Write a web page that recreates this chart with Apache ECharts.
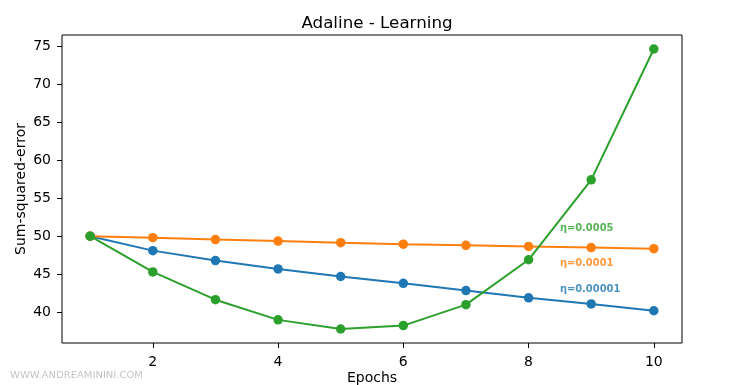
<!DOCTYPE html>
<html><head><meta charset="utf-8">
<script src="https://cdn.jsdelivr.net/npm/echarts@6/dist/echarts.min.js"></script>
<style>html,body{margin:0;padding:0;background:#fff}#c{width:730px;height:385px}</style>
</head><body><div id="c"></div>
<script>
const epochs = [1,2,3,4,5,6,7,8,9,10];
const eta00001 = [50.0,48.1,46.8,45.7,44.7,43.8,42.85,41.9,41.1,40.2];
const eta0001 = [50.0,49.8,49.55,49.35,49.15,48.95,48.8,48.65,48.5,48.35];
const eta0005 = [50.0,45.3,41.65,39.0,37.8,38.25,41.0,46.9,57.4,74.6];
const xTicks = [2,4,6,8,10];
const yTicks = [40,45,50,55,60,65,70,75];
const labels = ['η=0.00001','η=0.0001','η=0.0005'];
const labelPos = [[8.5,43.0],[8.5,46.5],[8.5,51.1]];
const colors = ['#1f77b4','#ff7f0e','#2ca02c'];
const seriesData = [eta00001, eta0001, eta0005];

const font = 'DejaVu Sans';
const xmin = 1 - 0.05*9, xmax = 10 + 0.05*9;
const all = [].concat(...seriesData);
const dmin = Math.min(...all), dmax = Math.max(...all), dr = dmax-dmin;
const ymin = dmin - 0.05*dr, ymax = dmax + 0.05*dr;

const chart = echarts.init(document.getElementById('c'), null, {renderer:'canvas'});
const series = seriesData.map((d,i)=>({
  type:'line', data: epochs.map((e,j)=>[e,d[j]]),
  symbol:'circle', symbolSize:9.5, showSymbol:true,
  lineStyle:{color:colors[i], width:2}, itemStyle:{color:colors[i]},
  animation:false, z: 2+i
}));
series.push({
  type:'scatter', symbolSize:0, animation:false, silent:true,
  data: labelPos.map((p,i)=>({value:p, label:{show:true, formatter:labels[i], position:'right', distance:0, color:colors[i], fontFamily:'DejaVu Sans Condensed', fontWeight:'bold', fontSize:11}}))
});
chart.setOption({
  backgroundColor:'#fff',
  animation:false,
  title:{text:'Adaline - Learning', left:372, top:10, textAlign:'center', textStyle:{fontFamily:font, fontSize:16.7, fontWeight:'normal', color:'#000'}},
  grid:{left:62, right:48, top:35, bottom:42, outerBoundsMode:'none', containLabel:false, show:true, borderColor:'#000', borderWidth:1, backgroundColor:'transparent'},
  xAxis:{type:'value', min:xmin, max:xmax,
    name:'Epochs', nameLocation:'middle', nameGap:28, nameMoveOverlap:false, nameTextStyle:{fontFamily:font, fontSize:14, color:'#000'},
    axisLine:{show:false}, splitLine:{show:false},
    axisTick:{show:true, length:5, customValues:xTicks, lineStyle:{color:'#000'}},
    axisLabel:{customValues:xTicks, margin:12, fontFamily:font, fontSize:14, color:'#000'}},
  yAxis:{type:'value', min:ymin, max:ymax,
    name:'Sum-squared-error', nameLocation:'middle', nameGap:34, nameMoveOverlap:false, nameTextStyle:{fontFamily:font, fontSize:14, color:'#000'},
    axisLine:{show:false}, splitLine:{show:false},
    axisTick:{show:true, length:5, customValues:yTicks, lineStyle:{color:'#000'}},
    axisLabel:{customValues:yTicks, margin:11, fontFamily:font, fontSize:14, color:'#000'}},
  graphic:[{type:'text', x:10, y:371.5, scaleX:1.25, style:{text:'WWW.ANDREAMININI.COM', fill:'#c4c4c4', font:'8px DejaVu Sans', textVerticalAlign:'top'}}],
  series
});
</script></body></html>
